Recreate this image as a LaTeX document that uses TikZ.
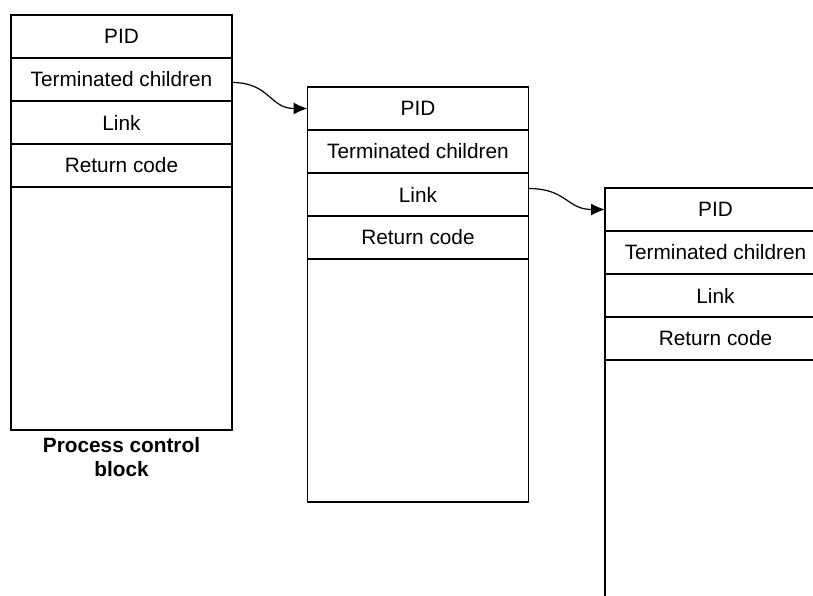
\documentclass[tikz,border=0pt]{standalone}
\usepackage{fontspec}
\setmainfont{Liberation Sans}
\usetikzlibrary{positioning,arrows.meta}

\begin{document}
\begin{tikzpicture}[
                x=0.5pt, y=-0.5pt,
                every node/.style={font=\fontsize{10.4}{12}\selectfont},
                field/.style={draw, line width=0.75pt, minimum width=110.5pt,
                    minimum height=21.5pt, inner sep=0pt, outer sep=0pt},
                body/.style={field, minimum height=121.5pt},
                link/.style={line width=0.6pt, -{Latex[length=7pt,width=6pt]}}
            ]

                \useasboundingbox (0,0) rectangle (813,595);
                \clip (0,0) rectangle (813,595);

                % three copies of the block, the last one runs off the page
                \foreach \b/\cx/\cy in {A/121.5/36.5, B/418/108.5, C/715.5/209.5} {
                    \node[field] (pid\b) at (\cx,\cy) {PID};
                    \node[field, below=0pt of pid\b] (term\b) {Terminated children};
                    \node[field, below=0pt of term\b] (link\b) {Link};
                    \node[field, below=0pt of link\b] (ret\b) {Return code};
                    \node[body, below=0pt of ret\b] (body\b) {};
                }

                \node[below=0pt of bodyA, align=center, font=\fontsize{10.4}{12}\selectfont\bfseries] (pcb)
                    {Process control\\block};

                \draw[link] ([yshift=-1.5pt]termA.east) .. controls +(38,0) and +(-38,0) .. (pidB.west);
                \draw[link] ([yshift=3pt]linkB.east) .. controls +(38,0) and +(-38,0) .. (pidC.west);

            \end{tikzpicture}
\end{document}
